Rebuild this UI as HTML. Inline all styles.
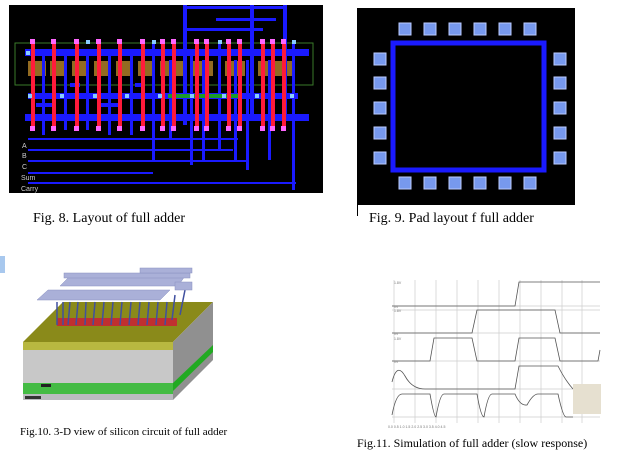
<!DOCTYPE html>
<html><head><meta charset="utf-8"><style>
body{margin:0;background:#fff;width:627px;height:464px;overflow:hidden;position:relative;font-family:"Liberation Serif",serif}
.cap{position:absolute;color:#000;white-space:nowrap}
</style></head><body>
<svg width="627" height="464" style="position:absolute;left:0;top:0">
<!-- Fig 8 -->
<rect x="9" y="5" width="314" height="188" fill="#000"/>
<rect x="15" y="43" width="298" height="42" fill="none" stroke="#3a7a2a" stroke-width="1"/>
<g fill="#b8862a" opacity="0.8">
<rect x="28" y="61" width="18" height="15"/><rect x="50" y="61" width="14" height="15"/><rect x="72" y="61" width="14" height="15"/><rect x="94" y="61" width="14" height="15"/><rect x="116" y="61" width="14" height="15"/><rect x="138" y="61" width="14" height="15"/><rect x="160" y="61" width="24" height="15"/><rect x="193" y="61" width="20" height="15"/><rect x="225" y="61" width="20" height="15"/><rect x="258" y="61" width="34" height="15"/>
</g>
<g fill="#1a1aff">
<rect x="25" y="49" width="284" height="7"/>
<rect x="25" y="114" width="284" height="7"/>
<rect x="28" y="93" width="270" height="6"/>
<rect x="183" y="5" width="4" height="120"/><rect x="250" y="5" width="4" height="110"/><rect x="283" y="5" width="4" height="115"/>
<rect x="183" y="6" width="104" height="3"/><rect x="216" y="18" width="60" height="3"/><rect x="183" y="28" width="80" height="3"/>
<rect x="42" y="55" width="3" height="80"/><rect x="64" y="55" width="3" height="75"/><rect x="86" y="50" width="3" height="80"/><rect x="108" y="55" width="3" height="80"/><rect x="130" y="55" width="3" height="80"/><rect x="152" y="40" width="3" height="120"/><rect x="169" y="60" width="3" height="80"/><rect x="190" y="55" width="3" height="110"/><rect x="202" y="60" width="3" height="100"/><rect x="218" y="40" width="3" height="110"/><rect x="234" y="60" width="3" height="100"/><rect x="246" y="60" width="3" height="110"/><rect x="268" y="60" width="3" height="100"/><rect x="292" y="40" width="3" height="150"/>
<rect x="28" y="138" width="210" height="2"/><rect x="28" y="149" width="205" height="2"/><rect x="28" y="160" width="220" height="2"/><rect x="28" y="172" width="125" height="2"/><rect x="28" y="182" width="268" height="2"/>
<rect x="36" y="103" width="20" height="4"/><rect x="100" y="103" width="20" height="4"/><rect x="70" y="83" width="10" height="4"/><rect x="135" y="83" width="10" height="4"/>
</g>
<rect x="168" y="94" width="72" height="4" fill="#1a9a2a"/>
<g fill="#ff1a3a">
<rect x="31" y="41" width="4" height="87"/><rect x="52" y="41" width="4" height="87"/><rect x="75" y="41" width="4" height="87"/><rect x="97" y="41" width="4" height="87"/><rect x="118" y="41" width="4" height="87"/><rect x="141" y="41" width="4" height="87"/><rect x="161" y="41" width="4" height="87"/><rect x="172" y="41" width="4" height="87"/><rect x="195" y="41" width="4" height="87"/><rect x="205" y="41" width="4" height="87"/><rect x="227" y="41" width="4" height="87"/><rect x="238" y="41" width="4" height="87"/><rect x="261" y="41" width="4" height="87"/><rect x="271" y="41" width="4" height="87"/><rect x="282" y="41" width="4" height="87"/>
</g>
<g fill="#ff66ff">
<rect x="30" y="39" width="5" height="5"/><rect x="51" y="39" width="5" height="5"/><rect x="74" y="39" width="5" height="5"/><rect x="96" y="39" width="5" height="5"/><rect x="117" y="39" width="5" height="5"/><rect x="140" y="39" width="5" height="5"/><rect x="160" y="39" width="5" height="5"/><rect x="171" y="39" width="5" height="5"/><rect x="194" y="39" width="5" height="5"/><rect x="204" y="39" width="5" height="5"/><rect x="226" y="39" width="5" height="5"/><rect x="237" y="39" width="5" height="5"/><rect x="260" y="39" width="5" height="5"/><rect x="270" y="39" width="5" height="5"/><rect x="281" y="39" width="5" height="5"/>
<rect x="30" y="126" width="5" height="5"/><rect x="51" y="126" width="5" height="5"/><rect x="74" y="126" width="5" height="5"/><rect x="96" y="126" width="5" height="5"/><rect x="117" y="126" width="5" height="5"/><rect x="140" y="126" width="5" height="5"/><rect x="160" y="126" width="5" height="5"/><rect x="171" y="126" width="5" height="5"/><rect x="194" y="126" width="5" height="5"/><rect x="204" y="126" width="5" height="5"/><rect x="226" y="126" width="5" height="5"/><rect x="237" y="126" width="5" height="5"/><rect x="260" y="126" width="5" height="5"/><rect x="270" y="126" width="5" height="5"/><rect x="281" y="126" width="5" height="5"/>
</g>
<g fill="#88ccff">
<rect x="26" y="51" width="4" height="4"/><rect x="28" y="94" width="4" height="4"/><rect x="60" y="94" width="4" height="4"/><rect x="93" y="94" width="4" height="4"/><rect x="125" y="94" width="4" height="4"/><rect x="158" y="94" width="4" height="4"/><rect x="190" y="94" width="4" height="4"/><rect x="222" y="94" width="4" height="4"/><rect x="255" y="94" width="4" height="4"/><rect x="290" y="94" width="4" height="4"/><rect x="86" y="40" width="4" height="4"/><rect x="152" y="40" width="4" height="4"/><rect x="218" y="40" width="4" height="4"/><rect x="292" y="40" width="4" height="4"/>
</g>
<g font-family="Liberation Sans,sans-serif" font-size="7" fill="#ccc">
<text x="22" y="148">A</text><text x="22" y="158">B</text><text x="22" y="169">C</text><text x="21" y="180">Sum</text><text x="21" y="191">Carry</text>
</g>
<!-- Fig 9 -->
<rect x="357" y="8" width="218" height="197" fill="#000"/>
<rect x="357" y="205" width="1" height="11" fill="#000"/>
<rect x="393" y="43" width="151" height="127" fill="none" stroke="#1a1aff" stroke-width="5"/>
<g fill="#7799ee" stroke="#bbccff" stroke-width="1">
<rect x="399" y="23" width="12" height="12"/><rect x="424" y="23" width="12" height="12"/><rect x="449" y="23" width="12" height="12"/><rect x="474" y="23" width="12" height="12"/><rect x="499" y="23" width="12" height="12"/><rect x="524" y="23" width="12" height="12"/>
<rect x="399" y="177" width="12" height="12"/><rect x="424" y="177" width="12" height="12"/><rect x="449" y="177" width="12" height="12"/><rect x="474" y="177" width="12" height="12"/><rect x="499" y="177" width="12" height="12"/><rect x="524" y="177" width="12" height="12"/>
<rect x="374" y="53" width="12" height="12"/><rect x="374" y="77" width="12" height="12"/><rect x="374" y="102" width="12" height="12"/><rect x="374" y="127" width="12" height="12"/><rect x="374" y="152" width="12" height="12"/>
<rect x="554" y="53" width="12" height="12"/><rect x="554" y="77" width="12" height="12"/><rect x="554" y="102" width="12" height="12"/><rect x="554" y="127" width="12" height="12"/><rect x="554" y="152" width="12" height="12"/>
</g>
<!-- Fig 10 -->
<rect x="0" y="256" width="5" height="17" fill="#a8c8ee"/>
<polygon points="23,342 63,302 213,302 173,342" fill="#8a8a1a"/>
<rect x="23" y="342" width="150" height="8" fill="#b8b840"/>
<rect x="23" y="350" width="150" height="33" fill="#c8c8c8"/>
<rect x="23" y="383" width="150" height="11" fill="#44bb44"/>
<rect x="23" y="394" width="150" height="6" fill="#bbbbc0"/>
<polygon points="173,342 213,302 213,360 173,400" fill="#909090"/>
<polygon points="173,383 213,345 213,352 173,391" fill="#22aa22"/>
<rect x="41" y="384" width="10" height="3" fill="#222"/><rect x="25" y="396" width="16" height="3" fill="#333"/>
<g fill="#c03030"><rect x="57" y="318" width="120" height="8"/></g>
<g stroke="#4050a0" stroke-width="1.5">
<line x1="57" y1="302" x2="57" y2="325"/><line x1="63" y1="302" x2="63" y2="325"/><line x1="70" y1="302" x2="68" y2="325"/><line x1="78" y1="302" x2="76" y2="325"/><line x1="86" y1="302" x2="85" y2="325"/><line x1="95" y1="302" x2="93" y2="325"/><line x1="104" y1="302" x2="102" y2="325"/><line x1="113" y1="302" x2="111" y2="325"/><line x1="122" y1="302" x2="120" y2="325"/><line x1="131" y1="302" x2="129" y2="325"/><line x1="140" y1="302" x2="138" y2="325"/><line x1="149" y1="302" x2="147" y2="325"/><line x1="158" y1="302" x2="156" y2="325"/><line x1="167" y1="302" x2="165" y2="325"/><line x1="175" y1="295" x2="172" y2="320"/><line x1="185" y1="290" x2="180" y2="315"/>
</g>
<g fill="#aab0d8" stroke="#8890c0" stroke-width="0.5">
<polygon points="37,300 48,290 170,290 160,300"/>
<polygon points="60,286 70,276 185,276 178,286"/>
<rect x="64" y="273" width="126" height="5"/>
<rect x="140" y="268" width="52" height="5"/>
<rect x="175" y="282" width="17" height="8"/>
</g>
<!-- Fig 11 -->
<g stroke="#ccc" stroke-width="0.7">
<line x1="394" y1="280" x2="394" y2="423"/><line x1="415" y1="280" x2="415" y2="423"/><line x1="436" y1="280" x2="436" y2="423"/><line x1="457" y1="280" x2="457" y2="423"/><line x1="478" y1="280" x2="478" y2="423"/><line x1="499" y1="280" x2="499" y2="423"/><line x1="520" y1="280" x2="520" y2="423"/><line x1="541" y1="280" x2="541" y2="423"/><line x1="562" y1="280" x2="562" y2="423"/><line x1="582" y1="280" x2="582" y2="423"/>
<line x1="392" y1="306" x2="600" y2="306"/><line x1="392" y1="310" x2="600" y2="310"/><line x1="392" y1="333" x2="600" y2="333"/><line x1="392" y1="361" x2="600" y2="361"/><line x1="392" y1="389" x2="600" y2="389"/><line x1="392" y1="417" x2="600" y2="417"/>
</g>
<g fill="none" stroke="#555" stroke-width="0.8">
<polyline points="392,306 515,306 519,282 600,282"/>
<polyline points="392,333 472,333 477,310 555,310 560,333 600,333"/>
<polyline points="392,361 430,361 434,338 472,338 477,361 515,361 519,338 555,338 560,361 598,361 600,350"/>
<path d="M392,382 Q397,362 405,376 Q412,389 425,389 L515,389 L519,366 L558,366 Q565,380 573,389"/>
<path d="M392,415 Q396,394 402,394 L430,394 Q434,417 436,417 Q440,394 444,394 L477,394 Q481,417 484,417 Q488,394 492,394 L515,394 Q520,406 527,405 Q533,394 538,394 L558,394 Q563,417 566,417 L573,417"/>
</g>
<rect x="573" y="384" width="28" height="30" fill="#e6e0d0"/>
<g font-family="Liberation Sans,sans-serif" font-size="3.5" fill="#777">
<text x="394" y="284">1.8V</text><text x="394" y="308">0V</text><text x="394" y="312">1.8V</text><text x="394" y="335">0V</text><text x="394" y="340">1.8V</text><text x="394" y="363">0V</text><text x="388" y="428">0.0 0.5 1.0 1.5 2.0 2.5 3.0 3.5 4.0 4.5</text>
</g>
</svg>
<div class="cap" style="left:33px;top:211px;font-size:14px">Fig. 8. Layout of full adder</div>
<div class="cap" style="left:369px;top:211px;font-size:14px">Fig. 9. Pad layout f full adder</div>
<div class="cap" style="left:20px;top:426px;font-size:11px">Fig.10. 3-D view of silicon circuit of full adder</div>
<div class="cap" style="left:357px;top:436px;font-size:12px">Fig.11. Simulation of full adder (slow response)</div>
</body></html>
